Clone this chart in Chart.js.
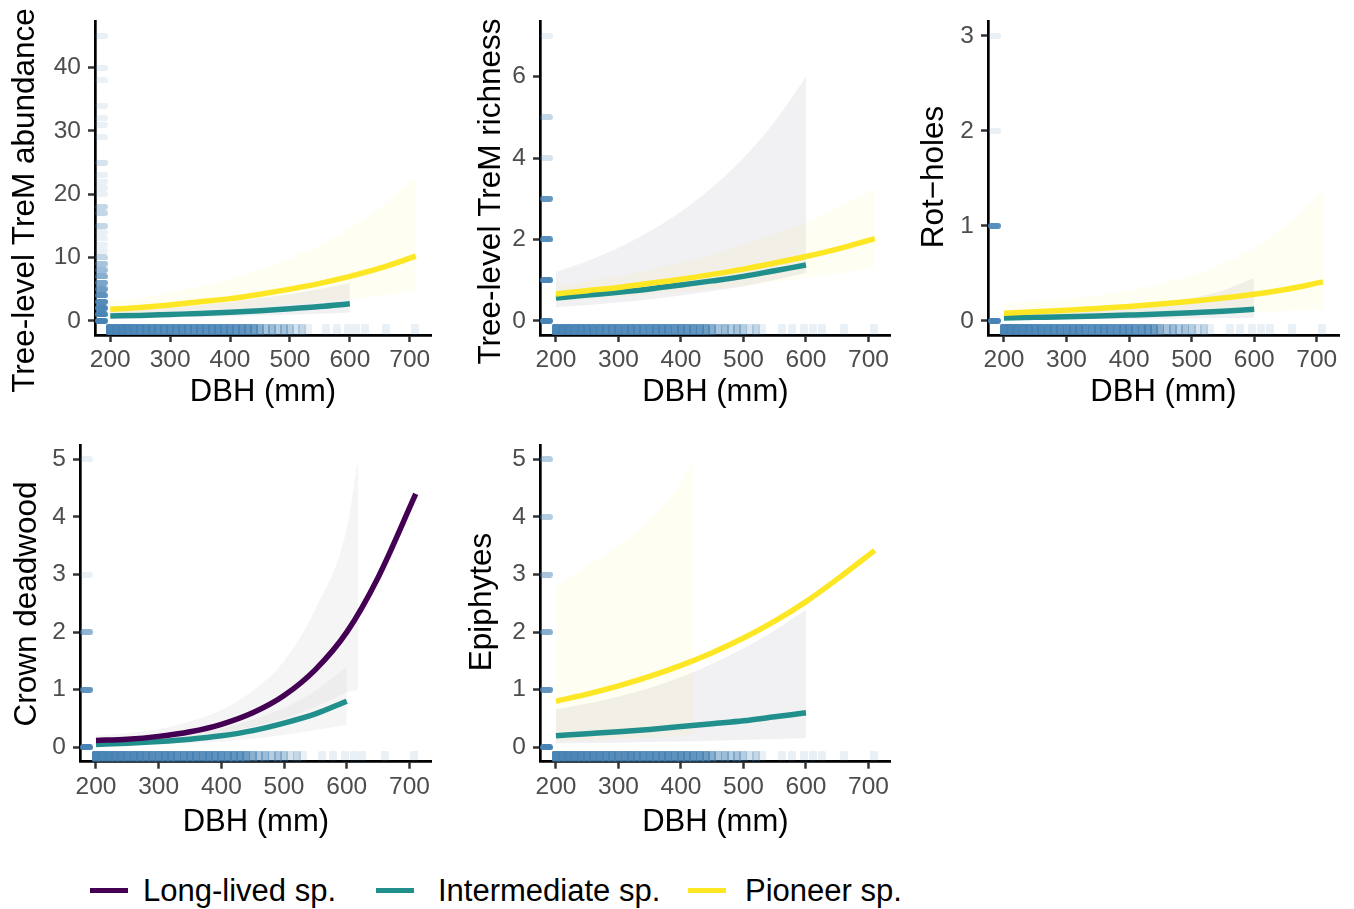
<!DOCTYPE html>
<html>
<head>
<meta charset="utf-8">
<script src="https://cdn.jsdelivr.net/npm/chart.js@4.4.1/dist/chart.umd.min.js"></script>
<style>
  body { margin: 0; background: #fff; width: 1354px; height: 909px; position: relative; overflow: hidden;
         font-family: "Liberation Sans", Arial, sans-serif; }
  canvas { position: absolute; }
  .key { position: absolute; top: 888px; height: 5px; width: 38px; }
  .lab { position: absolute; top: 871px; font-size: 31px; line-height: 40px; white-space: nowrap; color: #000; }
</style>
</head>
<body>
<canvas id="abund" width="450" height="420" style="left:0;top:0"></canvas>
<canvas id="rich" width="450" height="420" style="left:450px;top:0"></canvas>
<canvas id="rot" width="454" height="420" style="left:900px;top:0"></canvas>
<canvas id="crown" width="450" height="430" style="left:0;top:420px"></canvas>
<canvas id="epi" width="450" height="430" style="left:450px;top:420px"></canvas>

<div class="key" style="left:90px;background:#440154"></div>
<div class="lab" style="left:143px">Long-lived sp.</div>
<div class="key" style="left:376px;background:#21908C"></div>
<div class="lab" style="left:438px">Intermediate sp.</div>
<div class="key" style="left:688px;background:#FDE725"></div>
<div class="lab" style="left:745px">Pioneer sp.</div>

<script>
// DBH grid of the fitted curves
const dbh = [200, 250, 300, 350, 400, 450, 500, 550, 600, 650, 710];
const dbhInter = [200, 250, 300, 350, 400, 450, 500, 550, 600];
const dbhLongCI = [200, 250, 300, 350, 400, 450, 500, 550, 600, 618];
const dbhEpiPioneerCI = [200, 250, 300, 350, 400, 420];
const dbhTicks = [200, 300, 400, 500, 600, 700];

// tree-level TreM abundance
const abundPioneer = [1.8, 2.1, 2.5, 3.0, 3.5, 4.2, 5.0, 5.9, 7.0, 8.3, 10.2];
const abundPioneerLo = [1.1, 1.27, 1.46, 1.69, 1.94, 2.24, 2.59, 2.98, 3.44, 3.97, 4.7];
const abundPioneerHi = [3.0, 3.66, 4.46, 5.44, 6.63, 8.08, 9.85, 12.0, 14.6, 17.9, 22.8];
const abundInter = [0.75, 0.85, 1.0, 1.15, 1.35, 1.6, 1.9, 2.25, 2.7];
const abundInterLo = [0.4, 0.47, 0.55, 0.63, 0.72, 0.83, 0.96, 1.1, 1.3];
const abundInterHi = [1.5, 1.7, 2.1, 2.5, 3.0, 3.6, 4.2, 5.0, 6.0];
const abundTicks = [0, 10, 20, 30, 40];
const abundRug = [0, 1, 2, 3, 4, 5, 6, 7, 8, 9, 10, 11, 12, 13, 14, 15, 17, 18, 20, 21, 22, 23, 25, 29, 31, 32, 34, 38, 40, 45];
const abundRugN = [80, 30, 25, 20, 16, 12, 10, 8, 6, 5, 3, 1, 1, 1, 1, 3, 3, 3, 1, 1, 1, 1, 2, 1, 1, 1, 1, 1, 1, 1];

// tree-level TreM richness
const richPioneer = [0.66, 0.74, 0.82, 0.92, 1.02, 1.14, 1.27, 1.42, 1.58, 1.76, 2.02];
const richPioneerLo = [0.48, 0.53, 0.58, 0.64, 0.71, 0.78, 0.86, 0.95, 1.05, 1.16, 1.3];
const richPioneerHi = [0.85, 0.97, 1.1, 1.26, 1.44, 1.64, 1.87, 2.13, 2.43, 2.77, 3.25];
const richInter = [0.56, 0.63, 0.70, 0.78, 0.88, 0.98, 1.09, 1.23, 1.37];
const richInterLo = [0.33, 0.39, 0.45, 0.53, 0.62, 0.73, 0.85, 1.0, 1.18];
const richInterHi = [1.2, 1.47, 1.79, 2.2, 2.68, 3.28, 4.0, 4.9, 6.0];
const richTicks = [0, 2, 4, 6];
const richRug = [0, 1, 2, 3, 4, 5, 7];
const richRugN = [80, 25, 18, 14, 2, 3, 1];

// rot-holes
const rotPioneer = [0.08, 0.094, 0.11, 0.13, 0.15, 0.176, 0.206, 0.24, 0.28, 0.33, 0.41];
const rotPioneerLo = [0.03, 0.034, 0.039, 0.045, 0.052, 0.059, 0.068, 0.078, 0.089, 0.103, 0.12];
const rotPioneerHi = [0.18, 0.2, 0.23, 0.27, 0.32, 0.39, 0.48, 0.6, 0.77, 1.0, 1.36];
const rotInter = [0.03, 0.036, 0.042, 0.05, 0.06, 0.071, 0.085, 0.101, 0.12];
const rotInterLo = [0.01, 0.012, 0.014, 0.016, 0.019, 0.022, 0.025, 0.028, 0.032];
const rotInterHi = [0.08, 0.09, 0.105, 0.125, 0.15, 0.19, 0.24, 0.32, 0.45];
const rotTicks = [0, 1, 2, 3];
const rotRug = [0, 1, 2, 3];
const rotRugN = [80, 18, 1, 1];

// crown deadwood
const crownLong = [0.12, 0.14, 0.19, 0.27, 0.4, 0.6, 0.9, 1.35, 2.0, 2.95, 4.4];
const crownLongLo = [0.07, 0.09, 0.12, 0.17, 0.25, 0.36, 0.5, 0.7, 0.95, 1.0];
const crownLongHi = [0.2, 0.25, 0.32, 0.45, 0.65, 0.98, 1.5, 2.4, 3.8, 5.0];
const crownInter = [0.05, 0.07, 0.1, 0.14, 0.2, 0.29, 0.42, 0.58, 0.8];
const crownInterLo = [0.02, 0.03, 0.05, 0.07, 0.1, 0.15, 0.22, 0.3, 0.39];
const crownInterHi = [0.09, 0.12, 0.16, 0.23, 0.33, 0.48, 0.68, 0.98, 1.4];
const crownRug = [0, 1, 2, 3, 5];
const crownRugN = [80, 15, 7, 1, 1];

// epiphytes
const epiPioneer = [0.8, 0.924, 1.067, 1.232, 1.423, 1.643, 1.897, 2.19, 2.53, 2.92, 3.42];
const epiPioneerLo = [0.1, 0.12, 0.14, 0.17, 0.2, 0.22];
const epiPioneerHi = [2.8, 3.15, 3.5, 3.95, 4.6, 4.98];
const epiInter = [0.2, 0.235, 0.27, 0.31, 0.36, 0.41, 0.46, 0.53, 0.6];
const epiInterLo = [0.07, 0.075, 0.08, 0.09, 0.1, 0.115, 0.13, 0.145, 0.16];
const epiInterHi = [0.66, 0.76, 0.88, 1.03, 1.22, 1.45, 1.72, 2.03, 2.39];
const epiRug = [0, 1, 2, 3, 4, 5];
const epiRugN = [80, 15, 8, 5, 4, 4];
const countTicks5 = [0, 1, 2, 3, 4, 5];

// DBH of the trees (rug along the x axis) and how many trees share each value
const rugDbh = [200, 210, 220, 230, 240, 250, 260, 270, 280, 290, 300, 310, 320, 330, 340, 350, 360, 370, 380, 390,
  400, 410, 420, 430, 440, 450, 460, 470, 480, 490, 500, 510, 520, 530, 561, 578, 597, 611, 625, 661, 708];
const rugDbhN = [30, 30, 28, 26, 24, 22, 22, 22, 20, 20, 20, 20, 20, 18, 18, 18, 18, 18, 18, 16,
  16, 15, 15, 14, 12, 8, 5, 6, 4, 5, 4, 2, 3, 1, 1, 1, 1, 1, 1, 1, 1];

const LONG = '#440154', INTER = '#21908C', PIONEER = '#FDE725';
const RIB_LONG = 'rgba(160,160,160,0.11)';
const RIB_INTER = 'rgba(150,140,165,0.13)';
const RIB_PIONEER = 'rgba(253,231,37,0.06)';
const FONT = '"Liberation Sans", Arial, sans-serif';
const xMin = 174.5, xMax = 735.5;

const pts = (xs, ys) => xs.map((x, i) => ({ x: x, y: ys[i] }));
const rugAlpha = n => 1 - Math.pow(0.88, n);

const rugCache = {};
function rugMark(side, a) {
  const key = side + a.toFixed(3);
  if (rugCache[key]) return rugCache[key];
  const c = document.createElement('canvas');
  const g = c.getContext('2d');
  if (side === 'left') { c.width = 26; c.height = 6; } else { c.width = 8; c.height = 22; }
  g.fillStyle = 'rgba(70,130,180,' + a + ')';
  g.beginPath();
  if (side === 'left') g.roundRect(13, 0, 13, 6, 3); else g.roundRect(0, 0, 8, 11, 1.5);
  g.fill();
  rugCache[key] = c;
  return c;
}

const yTitlePlugin = {
  id: 'yTitle',
  afterDraw(chart, args, o) {
    const g = chart.ctx;
    g.save();
    g.translate(o.x, o.y);
    g.rotate(-Math.PI / 2);
    g.font = '31.5px ' + FONT;
    g.fillStyle = '#000';
    g.textAlign = 'center';
    g.textBaseline = 'middle';
    g.fillText(o.text, 0, 0);
    g.restore();
  }
};

function panel(id, p) {
  const canvas = document.getElementById(id);
  const ds = [];
  p.lines.forEach(l => ds.push({
    data: pts(l.x, l.y), borderColor: l.color, borderWidth: 5.5, borderCapStyle: 'butt',
    pointRadius: 0, fill: false, cubicInterpolationMode: 'monotone'
  }));
  ds.push({
    data: rugDbh.map((x, i) => ({ x: x, y: p.yMin, n: rugDbhN[i] })),
    showLine: false, pointRadius: 3,
    pointStyle: c => c.raw ? rugMark('bottom', rugAlpha(c.raw.n)) : 'circle'
  });
  ds.push({
    data: p.rug.map((y, i) => ({ x: xMin, y: y, n: p.rugN[i] })),
    showLine: false, pointRadius: 3,
    pointStyle: c => c.raw ? rugMark('left', rugAlpha(c.raw.n)) : 'circle'
  });
  p.ribbons.forEach(r => {
    ds.push({ data: pts(r.x, r.lo), borderColor: 'rgba(0,0,0,0)', borderWidth: 0, pointRadius: 0,
      fill: false, cubicInterpolationMode: 'monotone' });
    ds.push({ data: pts(r.x, r.hi), borderColor: 'rgba(0,0,0,0)', borderWidth: 0, pointRadius: 0,
      fill: '-1', backgroundColor: r.color, cubicInterpolationMode: 'monotone' });
  });

  const axisCommon = {
    type: 'linear',
    border: { display: true, color: '#000', width: 2.7 },
    grid: { drawOnChartArea: false, drawTicks: true, tickLength: 7, tickWidth: 2.5, tickColor: '#333333' },
  };

  new Chart(canvas, {
    type: 'line',
    data: { datasets: ds },
    plugins: [yTitlePlugin],
    options: {
      responsive: false,
      animation: false,
      events: [],
      devicePixelRatio: 1,
      layout: { padding: { top: p.top, right: p.right, left: 0, bottom: 0 } },
      plugins: {
        legend: { display: false },
        tooltip: { enabled: false },
        yTitle: { text: p.title, x: p.titleX, y: p.titleY }
      },
      scales: {
        x: Object.assign({}, axisCommon, {
          min: xMin, max: xMax,
          afterBuildTicks: s => { s.ticks = dbhTicks.map(v => ({ value: v })); },
          afterFit: s => { s.height = canvas.height - p.bottom; },
          ticks: { color: '#4D4D4D', font: { size: 24.5, family: FONT }, padding: 4, maxRotation: 0, autoSkip: false },
          title: { display: true, text: 'DBH (mm)', color: '#000',
            font: { size: 31, family: FONT, lineHeight: 1.2 }, padding: { top: 0, bottom: 9 } }
        }),
        y: Object.assign({}, axisCommon, {
          min: p.yMin, max: p.yMax,
          afterBuildTicks: s => { s.ticks = p.ticks.map(v => ({ value: v })); },
          afterFit: s => { s.width = p.left; },
          ticks: { color: '#4D4D4D', font: { size: 24.5, family: FONT }, padding: 7, autoSkip: false }
        })
      }
    }
  });
}

panel('abund', {
  left: 95, right: 19, top: 18, bottom: 335, yMin: -2.25, yMax: 47.25, ticks: abundTicks,
  title: 'Tree-level TreM abundance', titleX: 25.3, titleY: 200.5,
  rug: abundRug, rugN: abundRugN,
  lines: [{ x: dbh, y: abundPioneer, color: PIONEER }, { x: dbhInter, y: abundInter, color: INTER }],
  ribbons: [{ x: dbh, lo: abundPioneerLo, hi: abundPioneerHi, color: RIB_PIONEER },
            { x: dbhInter, lo: abundInterLo, hi: abundInterHi, color: RIB_INTER }]
});

panel('rich', {
  left: 90, right: 9.3, top: 18, bottom: 335, yMin: -0.35, yMax: 7.35, ticks: richTicks,
  title: 'Tree-level TreM richness', titleX: 41.3, titleY: 191.5,
  rug: richRug, rugN: richRugN,
  lines: [{ x: dbh, y: richPioneer, color: PIONEER }, { x: dbhInter, y: richInter, color: INTER }],
  ribbons: [{ x: dbh, lo: richPioneerLo, hi: richPioneerHi, color: RIB_PIONEER },
            { x: dbhInter, lo: richInterLo, hi: richInterHi, color: RIB_INTER }]
});

panel('rot', {
  left: 88, right: 15, top: 18, bottom: 335, yMin: -0.15, yMax: 3.15, ticks: rotTicks,
  title: 'Rot\u2212holes', titleX: 34.3, titleY: 177,
  rug: rotRug, rugN: rotRugN,
  lines: [{ x: dbh, y: rotPioneer, color: PIONEER }, { x: dbhInter, y: rotInter, color: INTER }],
  ribbons: [{ x: dbh, lo: rotPioneerLo, hi: rotPioneerHi, color: RIB_PIONEER },
            { x: dbhInter, lo: rotInterLo, hi: rotInterHi, color: RIB_INTER }]
});

panel('crown', {
  left: 80, right: 18.3, top: 25, bottom: 341.7, yMin: -0.25, yMax: 5.25, ticks: countTicks5,
  title: 'Crown deadwood', titleX: 27.3, titleY: 184,
  rug: crownRug, rugN: crownRugN,
  lines: [{ x: dbh, y: crownLong, color: LONG }, { x: dbhInter, y: crownInter, color: INTER }],
  ribbons: [{ x: dbhLongCI, lo: crownLongLo, hi: crownLongHi, color: RIB_LONG },
            { x: dbhInter, lo: crownInterLo, hi: crownInterHi, color: RIB_LONG }]
});

panel('epi', {
  left: 90, right: 9.3, top: 25, bottom: 341.7, yMin: -0.25, yMax: 5.25, ticks: countTicks5,
  title: 'Epiphytes', titleX: 32.3, titleY: 182,
  rug: epiRug, rugN: epiRugN,
  lines: [{ x: dbh, y: epiPioneer, color: PIONEER }, { x: dbhInter, y: epiInter, color: INTER }],
  ribbons: [{ x: dbhEpiPioneerCI, lo: epiPioneerLo, hi: epiPioneerHi, color: RIB_PIONEER },
            { x: dbhInter, lo: epiInterLo, hi: epiInterHi, color: RIB_INTER }]
});
</script>
</body>
</html>
